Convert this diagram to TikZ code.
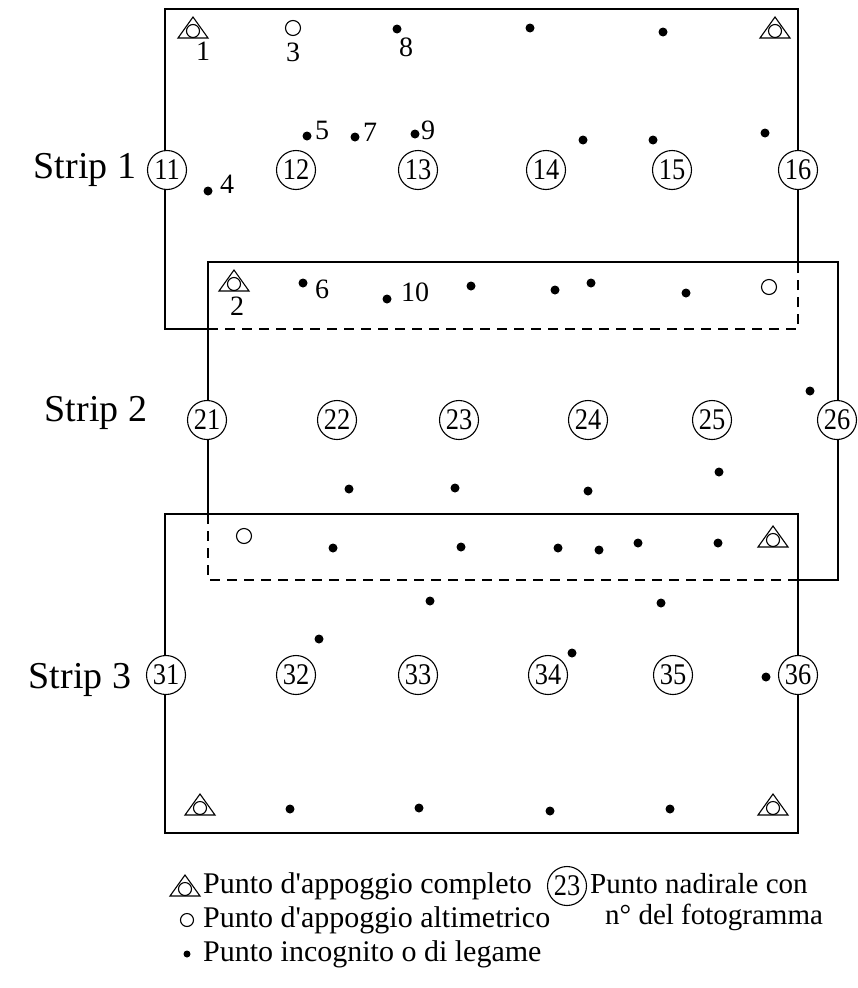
\documentclass[tikz,border=0pt]{standalone}
\usepackage{fontspec}
\setmainfont{Liberation Serif}
\newfontfamily\numfont[FakeStretch=0.88]{Liberation Serif}
\begin{document}
\begin{tikzpicture}[x=1pt,y=-1pt,
  box/.style={line width=1.5pt},
  dashbox/.style={line width=1.5pt, dash pattern=on 10pt off 7pt},
  nadir/.style={circle, draw, line width=1.1pt, fill=white, minimum size=39pt, inner sep=0pt, font=\numfont\fontsize{30}{30}\selectfont},
  tie/.style={circle, fill, inner sep=0pt, minimum size=9pt},
  hgt/.style={circle, draw, line width=1.1pt, inner sep=0pt, minimum size=15pt},
  lab/.style={inner sep=0pt, font=\fontsize{28}{28}\selectfont},
  striplab/.style={inner sep=0pt, font=\fontsize{38}{38}\selectfont},
  leg/.style={anchor=west, inner sep=0pt, font=\fontsize{30}{30}\selectfont},
  legr/.style={anchor=west, inner sep=0pt, font=\fontsize{29}{29}\selectfont},
  gcp/.pic={\draw[line width=1.1pt, line join=miter] (-15,10) -- (0,-11) -- (15,10) -- cycle;
            \draw[line width=1.1pt] (0,3) circle[radius=6.5pt];}
]
\useasboundingbox (0,0) rectangle (858,988);

% frame corners
\coordinate (a1) at (165,9);   \coordinate (a2) at (798,9);
\coordinate (a3) at (798,262); \coordinate (a4) at (798,329);
\coordinate (a5) at (208,329); \coordinate (a6) at (165,329);
\coordinate (b1) at (208,262); \coordinate (b2) at (838,262);
\coordinate (b3) at (838,580); \coordinate (b4) at (798,580);
\coordinate (b5) at (208,580); \coordinate (b6) at (208,514);
\coordinate (c1) at (165,514); \coordinate (c2) at (798,833);

% strip 1
\draw[box] (a5) -- (a6) -- (a1) -- (a2) -- (a3);
\draw[dashbox] (a5) -- (a4) -- (a3);
% strip 2
\draw[box] (b6) -- (b1) -- (b2) -- (b3) -- (b4);
\draw[dashbox] (b6) -- (b5) -- (b4);
% strip 3
\draw[box] (c1) rectangle (c2);

% nadir points
\node[nadir] (n11) at (167,170) {11};
\node[nadir] (n12) at (296,170) {12};
\node[nadir] (n13) at (418,170) {13};
\node[nadir] (n14) at (546,170) {14};
\node[nadir] (n15) at (672,170) {15};
\node[nadir] (n16) at (798,170) {16};
\node[nadir] (n21) at (207,420) {21};
\node[nadir] (n22) at (337,420) {22};
\node[nadir] (n23) at (459,420) {23};
\node[nadir] (n24) at (588,420) {24};
\node[nadir] (n25) at (712,420) {25};
\node[nadir] (n26) at (837,420) {26};
\node[nadir] (n31) at (166,675) {31};
\node[nadir] (n32) at (296,675) {32};
\node[nadir] (n33) at (418,675) {33};
\node[nadir] (n34) at (548,675) {34};
\node[nadir] (n35) at (673,675) {35};
\node[nadir] (n36) at (798,675) {36};

% strip labels
\node[striplab] (s1) at (85,170) {Strip 1};
\node[striplab] (s2) at (96,413) {Strip 2};
\node[striplab] (s3) at (80,680) {Strip 3};

% strip 1 points
\pic at (193,28) {gcp};
\node[lab] (l1) at (203,51) {1};
\pic at (775,28) {gcp};
\node[hgt] (p3) at (293,28) {};
\node[lab] (l3) at (293,52) {3};
\node[tie] (p8) at (397,29) {};
\node[lab] (l8) at (406,47) {8};
\node[tie] (q1) at (530,28) {};
\node[tie] (q2) at (663,32) {};
\node[tie] (p5) at (307,136) {};
\node[lab] (l5) at (322,130) {5};
\node[tie] (p7) at (355,137) {};
\node[lab] (l7) at (370,132) {7};
\node[tie] (p9) at (415,134) {};
\node[lab] (l9) at (428,130) {9};
\node[tie] (p4) at (208,191) {};
\node[lab] (l4) at (227,184) {4};
\node[tie] (q3) at (583,140) {};
\node[tie] (q4) at (653,140) {};
\node[tie] (q5) at (765,133) {};

% overlap 1-2
\pic at (234,281) {gcp};
\node[lab] (l2) at (237,306) {2};
\node[tie] (p6) at (303,283) {};
\node[lab] (l6) at (322,289) {6};
\node[tie] (p10) at (387,299) {};
\node[lab] (l10) at (415,292) {10};
\node[tie] (q6) at (471,286) {};
\node[tie] (q7) at (555,290) {};
\node[tie] (q8) at (591,283) {};
\node[tie] (q9) at (686,293) {};
\node[hgt] (h1) at (769,287) {};

% strip 2
\node[tie] (r1) at (810,391) {};
\node[tie] (r2) at (349,489) {};
\node[tie] (r3) at (455,488) {};
\node[tie] (r4) at (588,491) {};
\node[tie] (r5) at (719,472) {};

% overlap 2-3
\node[hgt] (h2) at (244,536) {};
\node[tie] (t1) at (333,548) {};
\node[tie] (t2) at (461,547) {};
\node[tie] (t3) at (558,548) {};
\node[tie] (t4) at (599,550) {};
\node[tie] (t5) at (638,543) {};
\node[tie] (t6) at (718,543) {};
\pic at (773,537) {gcp};

% strip 3
\node[tie] (u1) at (430,601) {};
\node[tie] (u2) at (319,639) {};
\node[tie] (u3) at (661,603) {};
\node[tie] (u4) at (572,653) {};
\node[tie] (u5) at (766,677) {};
\pic at (200,805) {gcp};
\pic at (773,805) {gcp};
\node[tie] (v1) at (290,809) {};
\node[tie] (v2) at (419,808) {};
\node[tie] (v3) at (550,811) {};
\node[tie] (v4) at (670,809) {};

% legend
\pic at (185,886) {gcp};
\node[leg] (g1) at (203,886) {Punto d\textquotesingle appoggio completo};
\node[hgt, minimum size=13pt] (g2s) at (187,920) {};
\node[leg] (g2) at (203,920) {Punto d\textquotesingle appoggio altimetrico};
\node[tie, minimum size=7pt] (g3s) at (187,954) {};
\node[leg] (g3) at (203,954) {Punto incognito o di legame};
\node[nadir] (g4s) at (567,886) {23};
\node[legr] (g4) at (590,884) {Punto nadirale con};
\node[legr] (g5) at (605,917) {n° del fotogramma};
\end{tikzpicture}
\end{document}
